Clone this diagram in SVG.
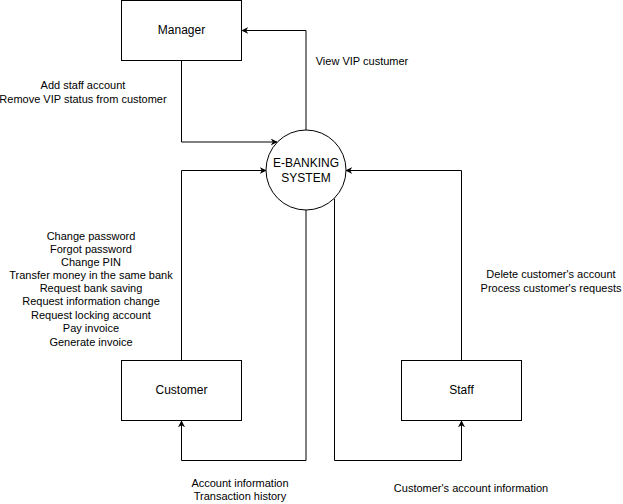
<svg xmlns="http://www.w3.org/2000/svg" width="623" height="504" viewBox="0 0 623 504">
<defs>
<marker id="arr" viewBox="0 0 10 10" refX="9" refY="5" markerWidth="7" markerHeight="7" orient="auto" markerUnits="userSpaceOnUse">
<path d="M0,0 L10,5 L0,10 L3,5 Z" fill="#000"/>
</marker>
<style>
.box{fill:#fff;stroke:#000;stroke-width:1}
.edge{fill:none;stroke:#000;stroke-width:1;marker-end:url(#arr)}
.t{font-family:"Liberation Sans",Arial,sans-serif;font-size:12px;fill:#000;text-anchor:middle}
.l{font-family:"Liberation Sans",Arial,sans-serif;font-size:11px;fill:#000;text-anchor:middle}
</style>
</defs>
<rect width="623" height="504" fill="#fff"/>
<g id="connectors">
<path class="edge" d="M181.5,60.5 V142 H277"/>
<path class="edge" d="M306,130 V30.5 H242"/>
<path class="edge" d="M181.5,360.5 V170.5 H266"/>
<path class="edge" d="M461.5,360.5 V170.5 H346"/>
<path class="edge" d="M306,210 V460.5 H181.5 V421"/>
<path class="edge" d="M334.5,198.5 V460.5 H461.5 V421"/>
</g>
<g id="labels">
<text class="l" x="83" y="89">Add staff account</text>
<text class="l" x="83" y="103">Remove VIP status from customer</text>
<text class="l" x="362" y="65">View VIP custumer</text>
<g>
<text class="l" x="91" y="240">Change password</text>
<text class="l" x="91" y="253">Forgot password</text>
<text class="l" x="91" y="266">Change PIN</text>
<text class="l" x="91" y="279">Transfer money in the same bank</text>
<text class="l" x="91" y="292">Request bank saving</text>
<text class="l" x="91" y="305">Request information change</text>
<text class="l" x="91" y="319">Request locking account</text>
<text class="l" x="91" y="332">Pay invoice</text>
<text class="l" x="91" y="346">Generate invoice</text>
</g>
<text class="l" x="551" y="278">Delete customer's account</text>
<text class="l" x="551" y="292">Process customer's requests</text>
<text class="l" x="240" y="487">Account information</text>
<text class="l" x="240" y="500">Transaction history</text>
<text class="l" x="471" y="492">Customer's account information</text>
</g>
<g id="manager">
<rect class="box" x="121.5" y="0.5" width="120" height="60"/>
<text class="t" x="181.5" y="34">Manager</text>
</g>
<g id="system">
<circle class="box" cx="306" cy="170" r="40"/>
<text class="t" x="306" y="167">E-BANKING</text>
<text class="t" x="306" y="182">SYSTEM</text>
</g>
<g id="customer">
<rect class="box" x="121.5" y="360.5" width="120" height="60"/>
<text class="t" x="181.5" y="394">Customer</text>
</g>
<g id="staff">
<rect class="box" x="401.5" y="360.5" width="120" height="60"/>
<text class="t" x="461.5" y="394">Staff</text>
</g>
</svg>
